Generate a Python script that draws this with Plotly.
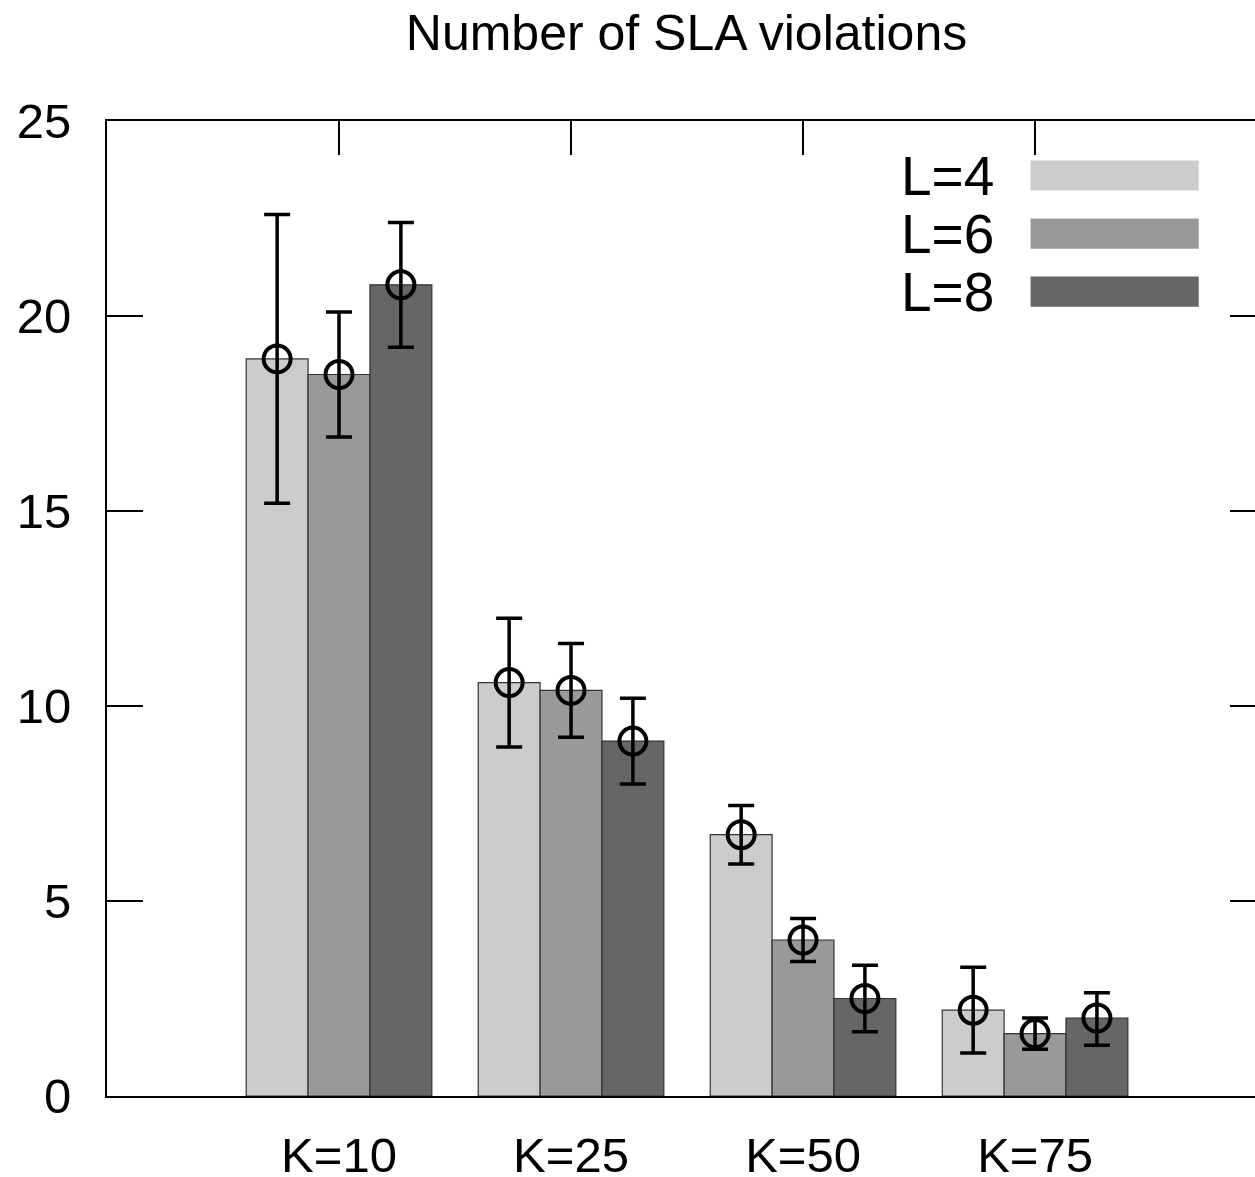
import plotly.graph_objects as go

categories = ["K=10", "K=25", "K=50", "K=75"]
series_names = ["L=4", "L=6", "L=8"]
colors = ["#cccccc", "#999999", "#666666"]

values = {
    "L=4": [18.9, 10.6, 6.7, 2.2],
    "L=6": [18.5, 10.4, 4.0, 1.6],
    "L=8": [20.8, 9.1, 2.5, 2.0],
}
err_high = {
    "L=4": [22.6, 12.25, 7.45, 3.3],
    "L=6": [20.1, 11.6, 4.55, 2.0],
    "L=8": [22.4, 10.2, 3.35, 2.65],
}
err_low = {
    "L=4": [15.2, 8.95, 5.95, 1.1],
    "L=6": [16.9, 9.2, 3.45, 1.2],
    "L=8": [19.2, 8.0, 1.65, 1.3],
}
y_ticks = [0, 5, 10, 15, 20, 25]

FONT = "Liberation Sans, Arial, Helvetica, sans-serif"

fig = go.Figure()
for name, col in zip(series_names, colors):
    fig.add_trace(go.Bar(
        x=categories, y=values[name], name=name, offsetgroup=name,
        marker=dict(color=col, line=dict(color="#333333", width=1.2)),
        showlegend=False,
    ))
for name in series_names:
    v = values[name]
    fig.add_trace(go.Scatter(
        x=categories, y=v, mode="markers", offsetgroup=name,
        marker=dict(symbol="circle-open", size=27, color="black", line=dict(width=4, color="black")),
        error_y=dict(type="data", symmetric=False,
                     array=[h - a for h, a in zip(err_high[name], v)],
                     arrayminus=[a - l for l, a in zip(err_low[name], v)],
                     color="black", thickness=3.5, width=13),
        showlegend=False,
    ))
# invisible trace so the right-hand (mirror tick) axis is drawn
fig.add_trace(go.Scatter(x=[categories[0]], y=[None], yaxis="y2", mode="markers",
                         showlegend=False, hoverinfo="skip"))

# gnuplot-style legend: text then swatch
for i, (name, col) in enumerate(zip(series_names, colors)):
    yc = 0.944 - i * 0.0595
    fig.add_annotation(x=0.774, y=yc, xref="paper", yref="paper", text=name,
                       showarrow=False, xanchor="right", yanchor="middle",
                       font=dict(family=FONT, size=55, color="black"))
    fig.add_shape(type="rect", xref="paper", yref="paper",
                  x0=0.8045, x1=0.951, y0=yc - 0.0154, y1=yc + 0.0154,
                  fillcolor=col, line=dict(width=0))

fig.update_layout(
    width=1255, height=1177,
    margin=dict(l=107, r=0, t=121, b=81),
    paper_bgcolor="white", plot_bgcolor="white",
    barmode="group", bargap=0.2, bargroupgap=0,
    scattermode="group", scattergap=0.2,
    font=dict(family=FONT, size=49, color="black"),
    title=dict(text="Number of SLA violations", x=0.547, xanchor="center", xref="container",
               y=0.972, yanchor="middle", font=dict(family=FONT, size=50, color="black")),
    showlegend=False,
    xaxis=dict(
        range=[-1, 3.948], showline=True, linecolor="black", linewidth=2,
        mirror="ticks", ticks="inside", ticklen=34, tickwidth=2, tickcolor="black",
        showgrid=False, zeroline=False, layer="below traces", ticklabelstandoff=15,
        automargin=False,
    ),
    yaxis=dict(
        range=[0, 25], tickvals=y_ticks, showline=True, linecolor="black", linewidth=2,
        mirror=False, ticks="inside", ticklen=36, tickwidth=2, tickcolor="black",
        showgrid=False, zeroline=False, layer="below traces", ticklabelstandoff=24,
        automargin=False,
    ),
    yaxis2=dict(overlaying="y", side="right", range=[0, 25], tickvals=y_ticks,
                showline=False, ticks="inside", ticklen=25, tickwidth=2, tickcolor="black",
                showticklabels=False, showgrid=False, zeroline=False, layer="below traces",
                automargin=False),
)

fig.write_html("out.html")
